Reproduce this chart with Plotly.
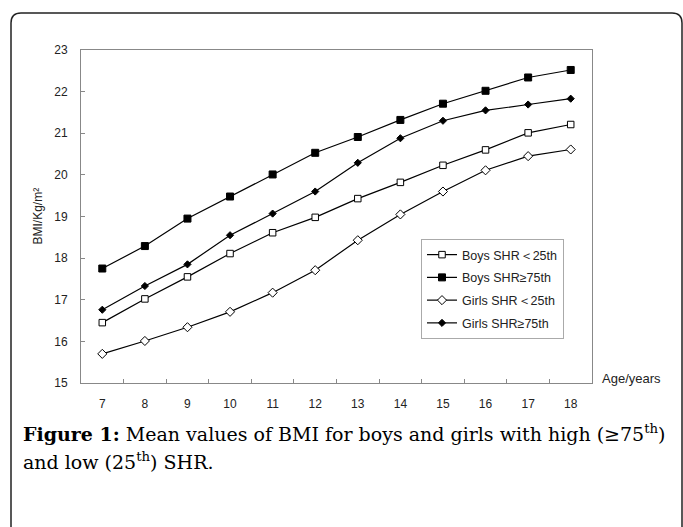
import plotly.graph_objects as go

ages = ["7", "8", "9", "10", "11", "12", "13", "14", "15", "16", "17", "18"]
boys_low = [16.45, 17.02, 17.55, 18.11, 18.61, 18.98, 19.43, 19.82, 20.23, 20.60, 21.01, 21.21]
boys_high = [17.75, 18.29, 18.95, 19.48, 20.01, 20.53, 20.91, 21.32, 21.71, 22.02, 22.34, 22.52]
girls_low = [15.70, 16.01, 16.34, 16.71, 17.17, 17.71, 18.43, 19.05, 19.60, 20.11, 20.45, 20.61]
girls_high = [16.76, 17.33, 17.85, 18.55, 19.07, 19.60, 20.29, 20.88, 21.30, 21.55, 21.69, 21.83]
series_names = ["Boys SHR＜25th", "Boys SHR≥75th", "Girls SHR＜25th", "Girls SHR≥75th"]

W, H = 683, 527
L, R, T, B = 81, 592, 50, 383

def px(x):
    return (x - L) / (R - L)

def py(y):
    return (B - y) / (B - T)

fig = go.Figure()
styles = [
    dict(symbol="square", color="white", size=6.5),
    dict(symbol="square", color="black", size=7),
    dict(symbol="diamond", color="white", size=7),
    dict(symbol="diamond", color="black", size=5.5),
]
for i, (name, vals, st) in enumerate(zip(series_names, [boys_low, boys_high, girls_low, girls_high], styles)):
    fig.add_trace(go.Scatter(
        x=ages, y=vals, name=name, mode="lines+markers", legendgroup=f"g{i}",
        line=dict(color="black", width=1.2),
        marker=dict(symbol=st["symbol"], color=st["color"], size=st["size"],
                    line=dict(color="black", width=1)),
    ))

axis_font = dict(family="Liberation Sans, Arial", size=12, color="#222")
fig.update_xaxes(
    type="category", range=[-0.5, 11.5], tickson="boundaries",
    ticks="inside", ticklen=4, tickcolor="#888", showline=True, linecolor="#888",
    linewidth=1, mirror=True, showgrid=False, zeroline=False, tickfont=axis_font,
    ticklabelstandoff=10,
)
fig.update_yaxes(
    range=[15, 23], dtick=1, ticks="inside", ticklen=4, tickcolor="#888",
    showline=True, linecolor="#888", linewidth=1, mirror=True, showgrid=False,
    zeroline=False, tickfont=axis_font, ticklabelstandoff=10,
)

# rounded frame
x0, x1 = px(11), px(682)
y0, y1 = py(13), py(540)
rx = 10 / (R - L)
ry = 10 / (B - T)
path = (f"M {x0+rx},{y0} L {x1-rx},{y0} Q {x1},{y0} {x1},{y0-ry} "
        f"L {x1},{y1} L {x0},{y1} L {x0},{y0-ry} Q {x0},{y0} {x0+rx},{y0} Z")
fig.add_shape(type="path", path=path, xref="paper", yref="paper",
              line=dict(color="#222", width=1.5), fillcolor="rgba(0,0,0,0)", layer="below")

cap_font = dict(family="DejaVu Serif, Liberation Serif", size=19, color="black")
annos = [
    dict(text="BMI/Kg/m²", x=px(37), y=0.5, textangle=-90, xanchor="center", yanchor="middle",
         font=axis_font),
    dict(text="Age/years", x=px(631), y=py(378), xanchor="center", yanchor="middle",
         font=dict(family="Liberation Sans, Arial", size=13, color="#222")),
    dict(text="<b>Figure 1:</b> Mean values of BMI for boys and girls with high (≥75<sup>th</sup>)",
         x=px(21), y=py(433), xanchor="left", yanchor="middle", font=cap_font),
    dict(text="and low (25<sup>th</sup>) SHR.",
         x=px(21), y=py(461), xanchor="left", yanchor="middle", font=cap_font),
]
for a in annos:
    fig.add_annotation(xref="paper", yref="paper", showarrow=False, **a)

fig.update_layout(
    width=W, height=H,
    margin=dict(l=L, r=W - R, t=T, b=H - B),
    paper_bgcolor="white", plot_bgcolor="white",
    showlegend=True,
    legend=dict(x=px(421), y=py(239), xanchor="left", yanchor="top",
                bgcolor="white", bordercolor="#aaa", borderwidth=1,
                font=dict(family="Liberation Sans, Arial", size=12.5, color="#222"),
                itemwidth=30, tracegroupgap=3.5, traceorder="grouped"),
)

fig.write_html("out.html", config={"displayModeBar": False},
               post_script="document.body.style.margin='0';document.body.style.overflow='hidden';")
